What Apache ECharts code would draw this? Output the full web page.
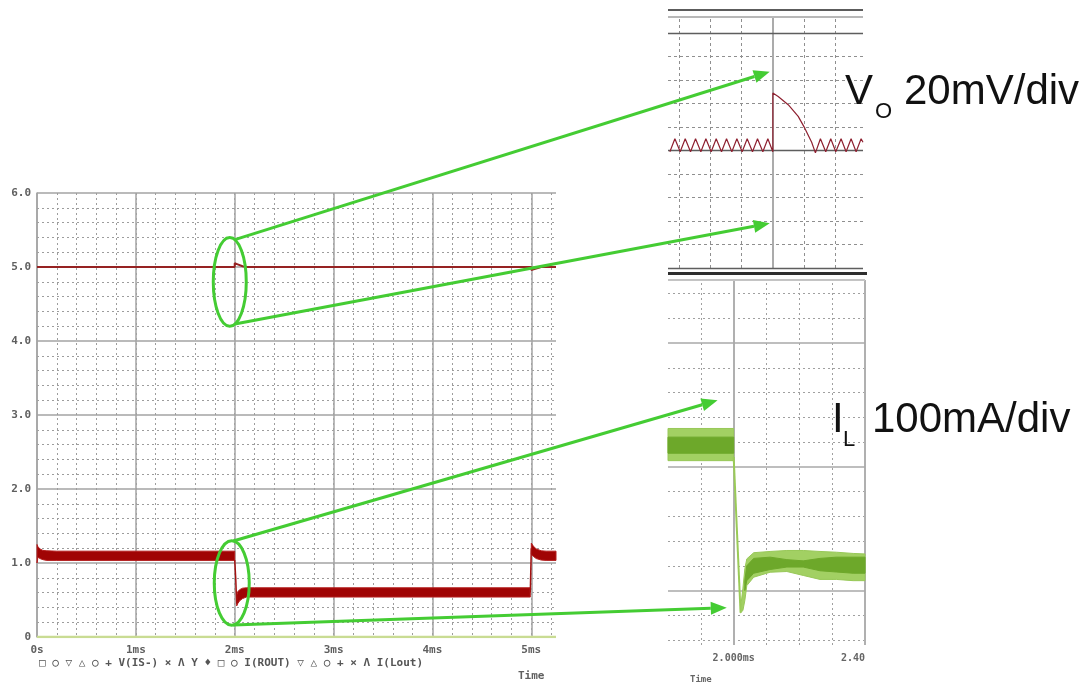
<!DOCTYPE html>
<html>
<head>
<meta charset="utf-8">
<title>Load step response</title>
<script src="https://cdn.jsdelivr.net/npm/echarts@6.0.0/dist/echarts.min.js"></script>
<style>
  html, body { margin: 0; padding: 0; background: #ffffff; }
  #chart { width: 1089px; height: 683px; }
</style>
</head>
<body>
<div id="chart"></div>
<script>
// ---------- overview, 0 .. 5.25 ms ----------
// output voltage (V)
const voutTime = [0, 2.0, 2.0, 2.03, 2.08, 2.12, 5.0, 5.0, 5.04, 5.1, 5.25];
const voutVolt = [5.0, 5.0, 5.05, 5.035, 5.01, 5.0, 5.0, 4.96, 4.975, 5.0, 5.0];
// inductor current ripple envelope (A), one segment per load level
const ilA_t  = [0.00, 0.01, 0.03, 0.06, 0.10, 0.20, 2.00];
const ilA_hi = [1.25, 1.22, 1.19, 1.17, 1.165, 1.16, 1.16];
const ilA_lo = [1.00, 1.08, 1.06, 1.045, 1.035, 1.035, 1.035];
const ilB_t  = [2.02, 2.03, 2.05, 2.08, 2.12, 2.20, 4.99];
const ilB_hi = [0.56, 0.61, 0.64, 0.66, 0.665, 0.665, 0.665];
const ilB_lo = [0.42, 0.45, 0.49, 0.52, 0.54, 0.54, 0.54];
const ilC_t  = [5.00, 5.02, 5.05, 5.10, 5.15, 5.25];
const ilC_hi = [1.27, 1.23, 1.19, 1.165, 1.16, 1.16];
const ilC_lo = [1.12, 1.09, 1.06, 1.04, 1.035, 1.035];
// current during the two load transitions
const ilDownT = [2.00, 2.01, 2.02];
const ilDownA = [1.04, 0.80, 0.45];
const ilUpT = [4.99, 5.00];
const ilUpA = [0.60, 1.20];
// trace sitting on the zero line
const zeroTraceT = [0, 5.25];
const zeroTraceV = [0, 0];

// ---------- V_O detail (µs from the load step, mV from 5 V) ----------
const voTimeUs = [-32.9, -31.3, -29.6, -28.0, -26.3, -24.7, -23.0, -21.4, -19.7, -18.1,
                  -16.4, -14.8, -13.1, -11.5, -9.8, -8.2, -6.5, -4.9, -3.2, -1.6,
                  0.0, 0.0, 1.7, 4.9, 8.1, 10.2, 12.4, 13.6, 15.2, 16.9,
                  18.5, 20.1, 21.8, 23.4, 25.0, 26.6, 28.2, 28.8];
const voDevMv  = [-1, 10, -1, 10, -1, 10, -1, 10, -1, 10,
                  -1, 10, -1, 10, -1, 10, -1, 10, -1, 10,
                  -1, 49, 46, 39, 29, 19, 7, -2, 10, -1,
                  10, -1, 10, -1, 10, -1, 10, 7];
const voMinorUs = [-30, -20, -10, 10, 20];
const voMajorUs = [0];
const voMinorMv = [-80, -60, -40, -20, 20, 40, 60, 80];
const voMajorMv = [-100, 0, 100];

// ---------- I_L detail (ms, A) ----------
const izPreT  = [1.80, 2.00];
const izPreHi = [1.155, 1.155];
const izPreLo = [1.025, 1.025];
const izPreCoreHi = [1.12, 1.12];
const izPreCoreLo = [1.055, 1.055];
const izDropT = [2.000, 2.021];
const izDropA = [1.04, 0.41];
const izPostT  = [2.021, 2.028, 2.034, 2.040, 2.061, 2.111, 2.162, 2.212, 2.263, 2.313, 2.364, 2.400];
const izPostHi = [0.43, 0.507, 0.588, 0.628, 0.653, 0.658, 0.662, 0.662, 0.658, 0.655, 0.650, 0.648];
const izPostLo = [0.41, 0.419, 0.46, 0.52, 0.554, 0.574, 0.577, 0.561, 0.545, 0.545, 0.540, 0.540];
const izCoreT  = [2.034, 2.040, 2.061, 2.111, 2.162, 2.212, 2.263, 2.313, 2.364, 2.400];
const izCoreHi = [0.54, 0.60, 0.63, 0.635, 0.625, 0.62, 0.63, 0.635, 0.635, 0.635];
const izCoreLo = [0.50, 0.54, 0.57, 0.585, 0.595, 0.595, 0.58, 0.575, 0.57, 0.57];
const izMinorMs = [1.9, 2.1, 2.2, 2.3];
const izMajorMs = [2.0, 2.4];
const izMinorA = [0.3, 0.4, 0.6, 0.7, 0.8, 0.9, 1.1, 1.2, 1.3, 1.4, 1.6, 1.7];
const izMajorA = [0.5, 1.0, 1.5];

// ---------- call-outs ----------
const ringCenterMs = [1.95, 1.97];
const ringCenterVal = [4.80, 0.73];
const ringHalfMs = [0.167, 0.177];
const ringHalfVal = [0.60, 0.57];
const voArrowTips = [[-1.0, 67], [-1.0, -62]];          // µs, mV
const izArrowTips = [[1.951, 1.269], [1.979, 0.431]];   // ms, A

// legend row of the simulator window
const legendGlyphs = ['□', '○', '▽', '△', '○', '+', 'V(IS-)', '×', 'Λ', 'Y', '♦', '□', '○', 'I(ROUT)',
                      '▽', '△', '○', '+', '×', 'Λ', 'I(Lout)'];
const legendColors = ['#3c3c78', '#86c6c6', '#d6d650', '#4c4c96', '#80b480', '#a0284a', '#55556e',
                      '#a4b4ac', '#a4a4ac', '#a8a8a8', '#5cae8e', '#b4a478', '#bccaa8', '#4a4a5a',
                      '#b03060', '#50a8d8', '#e0e078', '#303060', '#a8d8a8', '#d08484', '#4a4a5a'];

const zip = (a, b) => a.map((v, i) => [v, b[i]]);
const mono = '"DejaVu Sans Mono", "Liberation Mono", monospace';
const sans = '"Liberation Sans", Arial, sans-serif';
const green = '#44cc33';

const mainSegs = [
  { t: ilA_t, hi: ilA_hi, lo: ilA_lo },
  { t: ilB_t, hi: ilB_hi, lo: ilB_lo },
  { t: ilC_t, hi: ilC_hi, lo: ilC_lo }
];
const izOuterSegs = [
  { t: izPreT, hi: izPreHi, lo: izPreLo },
  { t: izPostT, hi: izPostHi, lo: izPostLo }
];
const izCoreSegs = [
  { t: izPreT, hi: izPreCoreHi, lo: izPreCoreLo },
  { t: izCoreT, hi: izCoreHi, lo: izCoreLo }
];

// filled envelope between hi and lo for each segment
function bandSeries(segs, xi, yi, fill, stroke, z) {
  return {
    type: 'custom', xAxisIndex: xi, yAxisIndex: yi, z: z, silent: true,
    data: segs.map(s => [s.t[0], s.hi[0]]),
    renderItem: function (params, api) {
      const s = segs[params.dataIndex];
      const pts = [];
      for (let i = 0; i < s.t.length; i++) pts.push(api.coord([s.t[i], s.hi[i]]));
      for (let i = s.t.length - 1; i >= 0; i--) pts.push(api.coord([s.t[i], s.lo[i]]));
      return { type: 'polygon', shape: { points: pts }, style: { fill: fill, stroke: stroke, lineWidth: 1 } };
    }
  };
}

function lineSeries(xi, yi, t, v, color, width, z) {
  return {
    type: 'line', xAxisIndex: xi, yAxisIndex: yi, z: z, silent: true,
    data: zip(t, v), symbol: 'none',
    lineStyle: { color: color, width: width }
  };
}

const vLines = (vals, ls) => vals.map(v => ({ xAxis: v, lineStyle: ls }));
const hLines = (vals, ls) => vals.map(v => ({ yAxis: v, lineStyle: ls }));

// division lines of a detail plot, kept underneath the traces
function gridSeries(xi, yi, lines) {
  return {
    type: 'line', xAxisIndex: xi, yAxisIndex: yi, z: 1, silent: true, data: [],
    markLine: {
      z: 1, silent: true, symbol: ['none', 'none'], label: { show: false },
      animation: false, emphasis: { disabled: true }, data: lines
    }
  };
}

const voDot = { color: '#8f8f8f', width: 1, type: [3, 3] };
const voSolidH = { color: '#5e5e5e', width: 1.3, type: 'solid' };
const voSolidV = { color: '#ababab', width: 2, type: 'solid' };
const izDot = { color: '#a0a0a0', width: 1, type: [2, 3] };
const izSolidH = { color: '#a8a8a8', width: 1.5, type: 'solid' };
const izSolidV = { color: '#b0b0b0', width: 2, type: 'solid' };

const chart = echarts.init(document.getElementById('chart'), null, { renderer: 'canvas' });

const option = {
  animation: false,
  backgroundColor: '#ffffff',
  grid: [
    { left: 37, top: 193, width: 519, height: 444 },
    { left: 668, top: 17, width: 195, height: 251 },
    { left: 668, top: 280, width: 197, height: 365 }
  ],
  xAxis: [
    { // fine dotted divisions of the overview
      gridIndex: 0, type: 'value', min: 0, max: 5.25, interval: 0.2, position: 'bottom',
      axisLine: { show: false, onZero: false }, axisTick: { show: false }, axisLabel: { show: false },
      splitLine: { show: true, showMinLine: false, showMaxLine: false,
        lineStyle: { color: '#9d9d9d', width: 1, type: [2, 3] } }
    },
    { // millisecond divisions and labels of the overview
      gridIndex: 0, type: 'value', min: 0, max: 5.25, interval: 1, position: 'bottom',
      axisLine: { show: false, onZero: false }, axisTick: { show: false },
      axisLabel: { show: true, showMaxLabel: false, margin: 8, color: '#5f5f5f',
        fontFamily: mono, fontWeight: 'bold', fontSize: 11,
        formatter: v => (v === 0 ? '0s' : v + 'ms') },
      splitLine: { show: true, showMaxLine: false, lineStyle: { color: '#a3a3a3', width: 1.5 } }
    },
    { gridIndex: 1, type: 'value', min: -33.5, max: 28.8, show: false },
    {
      gridIndex: 2, type: 'value', min: 1.8, max: 2.4, interval: 0.2,
      axisLine: { show: false, onZero: false }, axisTick: { show: false }, splitLine: { show: false },
      axisLabel: { margin: 8, color: '#666666', fontFamily: mono, fontWeight: 'bold', fontSize: 10,
        alignMaxLabel: 'right',
        formatter: v => (Math.abs(v - 2.0) < 1e-6 ? '2.000ms' : (Math.abs(v - 2.4) < 1e-6 ? '2.40' : '')) }
    }
  ],
  yAxis: [
    {
      gridIndex: 0, type: 'value', min: 0, max: 6, interval: 1,
      axisLine: { show: true, onZero: false, lineStyle: { color: '#a3a3a3', width: 1.5 } },
      axisTick: { show: false },
      axisLabel: { margin: 6, color: '#5f5f5f', fontFamily: mono, fontWeight: 'bold', fontSize: 11,
        formatter: v => (v === 0 ? '0' : v.toFixed(1)) },
      splitLine: { show: true, lineStyle: { color: '#a3a3a3', width: 1.5 } },
      minorTick: { show: false, splitNumber: 5 },
      minorSplitLine: { show: true, lineStyle: { color: '#9d9d9d', width: 1, type: [2, 3] } }
    },
    { gridIndex: 1, type: 'value', min: -100, max: 113.6, show: false },
    { gridIndex: 2, type: 'value', min: 0.28, max: 1.755, show: false }
  ],
  series: [
    // overview
    lineSeries(1, 0, zeroTraceT, zeroTraceV, '#c9dc93', 2.5, 2),
    lineSeries(1, 0, voutTime, voutVolt, '#962222', 2, 3),
    bandSeries(mainSegs, 1, 0, '#a00404', '#b41e1e', 3),
    lineSeries(1, 0, ilDownT, ilDownA, '#a41010', 1.5, 3),
    lineSeries(1, 0, ilUpT, ilUpA, '#a41010', 1.5, 3),
    // V_O detail
    gridSeries(2, 1, [].concat(
      vLines(voMinorUs, voDot), hLines(voMinorMv, voDot),
      vLines(voMajorUs, voSolidV), hLines(voMajorMv, voSolidH))),
    lineSeries(2, 1, voTimeUs, voDevMv, '#8e2030', 1.2, 6),
    // I_L detail
    gridSeries(3, 2, [].concat(
      vLines(izMinorMs, izDot), hLines(izMinorA, izDot),
      vLines(izMajorMs, izSolidV), hLines(izMajorA, izSolidH))),
    bandSeries(izOuterSegs, 3, 2, '#a2d063', '#98c858', 6),
    bandSeries(izCoreSegs, 3, 2, '#6da82a', '#6da82a', 7),
    lineSeries(3, 2, izDropT, izDropA, '#9acb57', 2, 6)
  ]
};
chart.setOption(option);

// ---------- overlay: frames, call-outs and text ----------
const toPx = (g, p) => chart.convertToPixel({ gridIndex: g }, p);
const gfx = [];

// window frame lines around the two detail plots
[[10, 863, '#5c5c5c', 2], [17, 863, '#b8b8b8', 2], [273.5, 867, '#2e2e2e', 3], [280, 865, '#c4c4c4', 2]]
  .forEach(([y, x2, c, w]) => gfx.push({ type: 'line', silent: true, z: 50,
    shape: { x1: 668, y1: y, x2: x2, y2: y }, style: { stroke: c, lineWidth: w } }));

function arrow(s, t) {
  const dx = t[0] - s[0], dy = t[1] - s[1];
  const len = Math.hypot(dx, dy), ux = dx / len, uy = dy / len;
  const L = 16, W = 6.5;
  const bx = t[0] - ux * L, by = t[1] - uy * L;
  gfx.push({ type: 'line', silent: true, z: 100, shape: { x1: s[0], y1: s[1], x2: bx, y2: by },
    style: { stroke: green, lineWidth: 3 } });
  gfx.push({ type: 'polygon', silent: true, z: 100,
    shape: { points: [[t[0], t[1]], [bx - uy * W, by + ux * W], [bx + uy * W, by - ux * W]] },
    style: { fill: green } });
}

const tipsPx = [
  [toPx(1, voArrowTips[0]), toPx(1, voArrowTips[1])],
  [toPx(2, izArrowTips[0]), toPx(2, izArrowTips[1])]
];
for (let k = 0; k < 2; k++) {
  const c = toPx(0, [ringCenterMs[k], ringCenterVal[k]]);
  const e = toPx(0, [ringCenterMs[k] + ringHalfMs[k], ringCenterVal[k] - ringHalfVal[k]]);
  const rx = e[0] - c[0], ry = e[1] - c[1];
  gfx.push({ type: 'ellipse', silent: true, z: 100, shape: { cx: c[0], cy: c[1], rx: rx, ry: ry },
    style: { fill: 'none', stroke: green, lineWidth: 3 } });
  const ang = (k === 0 ? 72 : 85) * Math.PI / 180;
  const top = [c[0] + rx * Math.cos(ang), c[1] - ry * Math.sin(ang)];
  const bot = [c[0] + rx * Math.cos(ang), c[1] + ry * Math.sin(ang)];
  arrow(top, tipsPx[k][0]);
  arrow(bot, tipsPx[k][1]);
}

// scale annotations
function label(text, x, y, size) {
  gfx.push({ type: 'text', silent: true, z: 110, x: x, y: y,
    style: { text: text, fontFamily: sans, fontSize: size, fill: '#111111', verticalAlign: 'middle', align: 'left' } });
}
label('V', 845, 92, 42);
label('O', 875, 112, 22);
label('20mV/div', 904, 92, 42);
label('I', 832, 420, 42);
label('L', 843, 440, 22);
label('100mA/div', 872, 420, 42);

// simulator legend row and axis titles
const rich = {};
legendColors.forEach((c, i) => {
  rich['k' + i] = { color: c, fontFamily: mono, fontWeight: 'bold', fontSize: 11 };
});
gfx.push({ type: 'text', silent: true, z: 110, x: 39, y: 663,
  style: { text: legendGlyphs.map((g, i) => '{k' + i + '|' + g + '}').join(' '), rich: rich,
    fontFamily: mono, fontWeight: 'bold', fontSize: 11, fill: '#555555', verticalAlign: 'middle' } });
gfx.push({ type: 'text', silent: true, z: 110, x: 518, y: 671,
  style: { text: 'Time', fontFamily: mono, fontWeight: 'bold', fontSize: 11, fill: '#5f5f5f', verticalAlign: 'top' } });
gfx.push({ type: 'text', silent: true, z: 110, x: 690, y: 675,
  style: { text: 'Time', fontFamily: mono, fontWeight: 'bold', fontSize: 9, fill: '#666666', verticalAlign: 'top' } });

chart.setOption({ graphic: gfx });
</script>
</body>
</html>
